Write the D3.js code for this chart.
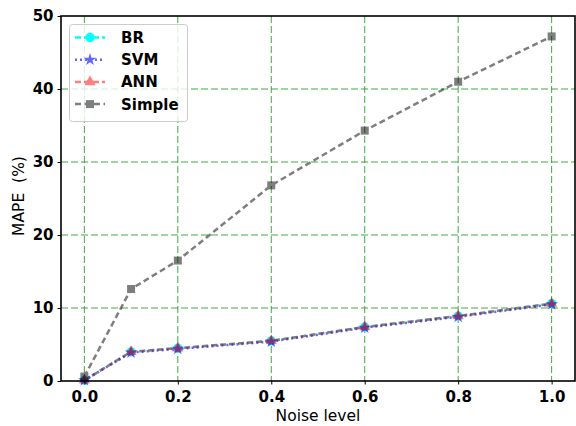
<!DOCTYPE html>
<html>
<head>
<meta charset="utf-8">
<script src="https://cdn.jsdelivr.net/npm/d3@7"></script>
<style>
  body { margin: 0; background: #fff; }
  svg text { font-family: "DejaVu Sans", sans-serif; }
</style>
</head>
<body>
<div id="main"></div>
<script>
// data
var noise = [0.0, 0.1, 0.2, 0.4, 0.6, 0.8, 1.0];
var br = [0.1, 4.0, 4.5, 5.5, 7.4, 8.9, 10.6];
var svm = [0.1, 3.9, 4.4, 5.4, 7.3, 8.8, 10.5];
var ann = [0.1, 4.0, 4.5, 5.5, 7.4, 8.9, 10.6];
var simple = [0.6, 12.6, 16.5, 26.8, 34.3, 41.0, 47.2];
var xTicks = [0.0, 0.2, 0.4, 0.6, 0.8, 1.0];
var yTicks = [0, 10, 20, 30, 40, 50];

var winWidth = 576, winHeight = 426;
// plot area edges
var pLeft = 61, pRight = 575, pTop = 16, pBottom = 381;

var svg = d3.select('#main')
  .append('svg')
  .attr('width', winWidth)
  .attr('height', winHeight);

var x = d3.scaleLinear().domain([-0.05, 1.05]).range([pLeft, pRight]);
var y = d3.scaleLinear().domain([0, 50]).range([pBottom, pTop]);

// grid, green dashed
var grid = svg.append('g');
grid.selectAll('line.vx').data(xTicks).enter().append('line')
  .attr('x1', d => x(d)).attr('x2', d => x(d))
  .attr('y1', pTop).attr('y2', pBottom)
  .attr('stroke', '#2ca02c').attr('stroke-opacity', 0.9)
  .attr('stroke-width', 1).attr('stroke-dasharray', '7,3');
grid.selectAll('line.hy').data(yTicks.slice(1, -1)).enter().append('line')
  .attr('x1', pLeft).attr('x2', pRight)
  .attr('y1', d => y(d)).attr('y2', d => y(d))
  .attr('stroke', '#2ca02c').attr('stroke-opacity', 0.9)
  .attr('stroke-width', 1).attr('stroke-dasharray', '7,3');

var series = [
  {name: 'BR', values: br, color: '#00ffff', opacity: 1, dash: '6,3', marker: 'circle', size: 68},
  {name: 'SVM', values: svm, color: '#0000ff', opacity: 0.6, dash: '2,3', marker: 'star', size: 50},
  {name: 'ANN', values: ann, color: '#ff0000', opacity: 0.5, dash: '6,3', marker: 'triangle', size: 55},
  {name: 'Simple', values: simple, color: '#000000', opacity: 0.5, dash: '6,3.5', marker: 'square', size: 64}
];

var symbols = {circle: d3.symbolCircle, star: d3.symbolStar, triangle: d3.symbolTriangle, square: d3.symbolSquare};

var line = d3.line().x(d => x(d[0])).y(d => y(d[1]));

series.forEach(function(s) {
  var pts = noise.map((n, i) => [n, s.values[i]]);
  var g = svg.append('g').attr('opacity', s.opacity);
  g.append('path')
    .attr('d', line(pts))
    .attr('fill', 'none')
    .attr('stroke', s.color)
    .attr('stroke-width', 2.5)
    .attr('stroke-dasharray', s.dash);
  g.selectAll('path.m').data(pts).enter().append('path')
    .attr('d', d3.symbol().type(symbols[s.marker]).size(s.size))
    .attr('transform', d => 'translate(' + x(d[0]) + ',' + y(d[1]) + ')')
    .attr('fill', s.color);
});

// axes
var xAxis = svg.append('g').attr('transform', 'translate(0,' + pBottom + ')')
  .call(d3.axisBottom(x).tickValues(xTicks).tickFormat(d3.format('.1f')).tickSizeInner(3.5).tickSizeOuter(0).tickPadding(7));
var yAxis = svg.append('g').attr('transform', 'translate(' + pLeft + ',0)')
  .call(d3.axisLeft(y).tickValues(yTicks).tickFormat(d3.format('d')).tickSizeInner(3.5).tickSizeOuter(0).tickPadding(4));
[xAxis, yAxis].forEach(function(a) {
  a.select('.domain').remove();
  a.selectAll('line').attr('stroke', '#000').attr('stroke-width', 1);
  a.selectAll('text').attr('font-family', 'DejaVu Sans').attr('font-size', 15)
    .attr('font-weight', 'bold').attr('fill', '#000');
});

// frame
svg.append('rect')
  .attr('x', pLeft).attr('y', pTop)
  .attr('width', pRight - pLeft).attr('height', pBottom - pTop)
  .attr('fill', 'none').attr('stroke', '#000').attr('stroke-width', 1.6);

// axis labels
svg.append('text')
  .attr('x', (pLeft + pRight) / 2).attr('y', 421)
  .attr('text-anchor', 'middle').attr('font-size', 15.5)
  .text('Noise level');
svg.append('text')
  .attr('transform', 'translate(24,196) rotate(-90)')
  .attr('text-anchor', 'middle').attr('font-size', 15.5)
  .attr('xml:space', 'preserve')
  .text('MAPE  (%)');

// legend
var lg = svg.append('g');
lg.append('rect')
  .attr('x', 69.5).attr('y', 24.5).attr('width', 118).attr('height', 97).attr('rx', 3)
  .attr('fill', '#fff').attr('fill-opacity', 0.8)
  .attr('stroke', '#ccc').attr('stroke-width', 1);
series.forEach(function(s, i) {
  var yy = 37.5 + i * 22.2;
  var g = lg.append('g').attr('opacity', s.opacity);
  g.append('line')
    .attr('x1', 75).attr('x2', 105).attr('y1', yy).attr('y2', yy)
    .attr('stroke', s.color).attr('stroke-width', 2.5)
    .attr('stroke-dasharray', s.dash);
  g.append('path')
    .attr('d', d3.symbol().type(symbols[s.marker]).size(s.size))
    .attr('transform', 'translate(90,' + yy + ')')
    .attr('fill', s.color);
  lg.append('text')
    .attr('x', 121).attr('y', yy + 5.5)
    .attr('font-size', 15).attr('font-weight', 'bold')
    .text(s.name);
});
</script>
</body>
</html>
